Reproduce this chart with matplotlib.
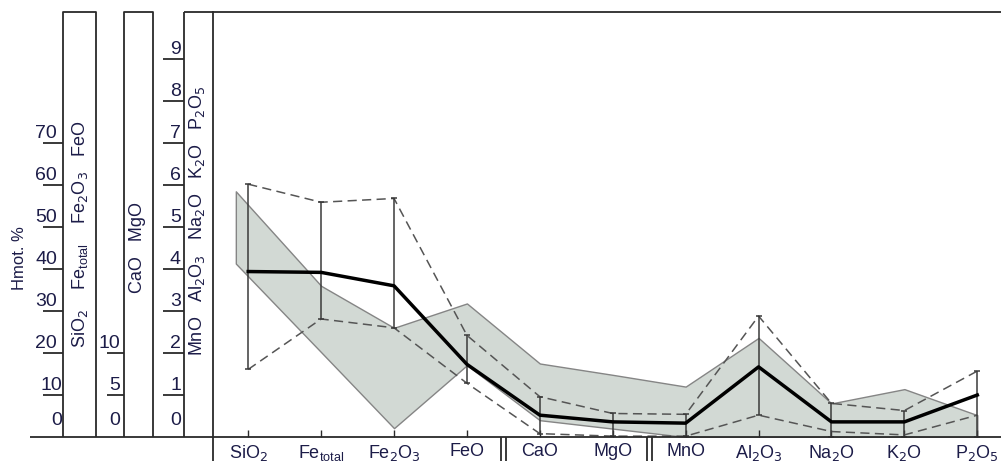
import numpy as np
import matplotlib.pyplot as plt
from matplotlib import transforms

plt.rcParams['font.family'] = ['Liberation Sans', 'DejaVu Sans']

# oxides along the x axis and the factor that puts each on the common (SiO2) scale
oxides = ['SiO$_2$', 'Fe$_{\\mathregular{total}}$', 'Fe$_2$O$_3$', 'FeO', 'CaO', 'MgO',
          'MnO', 'Al$_2$O$_3$', 'Na$_2$O', 'K$_2$O', 'P$_2$O$_5$']
factor = [1, 1, 1, 1, 2, 2, 10, 10, 10, 10, 10]

# wt.% values
mean_wt = [39.4, 39.2, 36.0, 17.3, 2.6, 1.8, 0.33, 1.67, 0.36, 0.36, 1.0]
upper_wt = [60.2, 55.9, 56.8, 24.2, 4.8, 2.8, 0.54, 2.88, 0.80, 0.63, 1.57]
lower_wt = [16.1, 28.1, 26.0, 12.8, 0.4, 0.1, 0.02, 0.52, 0.13, 0.05, 0.52]
bar_lo_wt = [16.1, 28.1, 26.0, 12.8, 0.4, 0.1, 0.02, 0.52, 0.0, 0.0, 0.0]
band_hi_wt = [58.5, 36.0, 26.0, 31.8, 8.75, 7.4, 1.2, 2.36, 0.80, 1.14, 0.52]
band_lo_wt = [41.3, 20.2, 2.1, 17.1, 2.0, 1.0, 0.0, 0.0, 0.0, 0.0, 0.0]

# the three left-hand scales
scale1_ticks = [0, 10, 20, 30, 40, 50, 60, 70]
scale2_ticks = [0, 5, 10]
scale3_ticks = [0, 1, 2, 3, 4, 5, 6, 7, 8, 9]

W, H = 1001, 461
TXT = '#1c1c48'
LN = '#2a2a2a'

f = np.array(factor, float)
mean = np.array(mean_wt) * f
upper = np.array(upper_wt) * f
lower = np.array(lower_wt) * f
bar_lo = np.array(bar_lo_wt) * f
band_hi = np.array(band_hi_wt) * f
band_lo = np.array(band_lo_wt) * f
x = np.arange(len(oxides), dtype=float)
xb = x.copy()
xb[0] -= 0.17  # band starts a little left of SiO2

fig = plt.figure(figsize=(W / 100, H / 100), dpi=100)
ax = fig.add_axes([213 / W, 1 - 437 / H, (W - 213) / W, 425 / H])
ax.set_xlim(-0.483, 10.325)
ax.set_ylim(0, 101.2)

ax.fill_between(xb, band_lo, band_hi, facecolor='#d2d9d4', edgecolor='#858585', lw=1, zorder=1)
for yy in (upper, lower):
    ax.plot(x, yy, color='#555555', lw=1.1, dashes=(6, 3.5), zorder=2)
ax.errorbar(x, mean, yerr=[mean - bar_lo, upper - mean], fmt='none', ecolor='#3a3a3a',
            elinewidth=1.1, capsize=2, capthick=1.1, zorder=3)
ax.plot(x, mean, color='black', lw=2.5, solid_joinstyle='round', zorder=4)

for s in ('right', 'bottom'):
    ax.spines[s].set_visible(False)
for s in ('left', 'top'):
    ax.spines[s].set_linewidth(1.3)
    ax.spines[s].set_color(LN)
ax.set_yticks([])
ax.set_xticks(x, oxides)
ax.tick_params(axis='x', direction='in', length=5, width=1, color=LN, pad=4,
               labelsize=13, labelcolor=TXT)

# overlay in pixel coordinates for the frame and the side scales
ov = fig.add_axes([0, 0, 1, 1], zorder=5)
ov.set_xlim(0, W)
ov.set_ylim(H, 0)
ov.axis('off')
ov.patch.set_visible(False)
ty = transforms.blended_transform_factory(ov.transData, ax.transData)
tx = transforms.blended_transform_factory(ax.transData, ov.transData)
kw = dict(color=LN, lw=1.3, solid_capstyle='butt')

ov.plot([30, W], [437, 437], **kw)
ov.plot([213, 213], [437, H], **kw)
ov.plot([184, 213], [12, 12], **kw)
for xl, xr in ((63, 96), (124, 153)):
    ov.plot([xl, xl, xr, xr], [437, 12, 12, 437], **kw)
ov.plot([184, 184], [12, 437], **kw)
for xs in (3.5, 5.5):
    for d in (-0.037, 0.037):
        ov.plot([xs + d, xs + d], [437, H], transform=tx, **kw)

# scale ticks: (ticks, factor, tick line x0, x1, label right edge)
for ticks, fac, x0, x1, xr in ((scale1_ticks, 1, 43, 63, 57),
                               (scale2_ticks, 2, 107, 124, 120),
                               (scale3_ticks, 10, 163, 184, 181)):
    for t in ticks:
        v = t * fac
        if t == 0:
            ov.text(xr + (5 if fac == 1 else 0), v + 2.0, '0', transform=ty, ha='right',
                    va='bottom', fontsize=14, color=TXT)
            continue
        ov.plot([x0, x1], [v, v], transform=ty, **kw)
        xr_t = xr + 5 if (fac == 1 and t == 10) else xr
        ov.text(xr_t, v + 0.3, str(t), transform=ty, ha='right', va='bottom',
                fontsize=14, color=TXT)

rot = dict(rotation=90, ha='center', va='center', rotation_mode='anchor', color=TXT)
ov.text(20, 258, 'Hmot. %', fontsize=12, **rot)
ov.text(80, 234, 'SiO$_2$    Fe$_{\\mathregular{total}}$    Fe$_2$O$_3$   FeO', fontsize=13, **rot)
ov.text(138, 247, 'CaO   MgO', fontsize=13, **rot)
ov.text(197, 221, 'MnO   Al$_2$O$_3$   Na$_2$O   K$_2$O   P$_2$O$_5$', fontsize=13, **rot)

fig.savefig('out.png', dpi=100)
